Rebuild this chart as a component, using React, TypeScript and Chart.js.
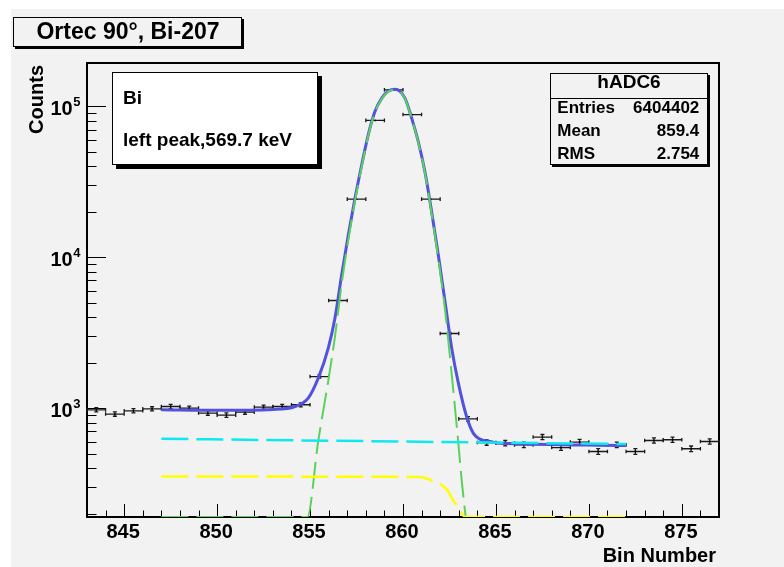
import React, { useEffect, useRef } from "react";
import { Chart, registerables } from "chart.js";

Chart.register(...registerables);

// ---- data ----
const binCenters = [
  843.5, 844.5, 845.5, 846.5, 847.5, 848.5, 849.5, 850.5, 851.5, 852.5, 853.5, 854.5,
  855.5, 856.5, 857.5, 858.5, 859.5, 860.5, 861.5, 862.5, 863.5, 864.5, 865.5, 866.5,
  867.5, 868.5, 869.5, 870.5, 871.5, 872.5, 873.5, 874.5, 875.5, 876.5,
];
const counts = [
  974, 913, 960, 989, 1025, 1000, 927, 899, 941, 1015, 1025, 1052,
  1618, 5160, 24200, 80400, 128300, 87900, 24200, 3120, 849, 592, 586, 571,
  643, 548, 596, 516, 571, 516, 610, 617, 538, 601,
];

// total fit (blue)
const totalFitX = [
  847, 850, 853, 854.19, 854.9, 855.44, 855.98, 856.34, 856.7, 857.06, 857.42, 857.78,
  858.13, 858.49, 858.85, 859.21, 859.57, 860.11, 860.47, 860.82, 861.18, 861.54, 861.9,
  862.26, 862.62, 862.97, 863.42, 863.78, 864.32, 864.68, 865.04, 865.58, 872,
];
const totalFitY = [
  975, 966, 979, 1025, 1165, 1580, 2496, 3945, 7625, 14040, 24600, 40900,
  64600, 92000, 112600, 125800, 129500, 112600, 83000, 58300, 36800, 20000, 10330,
  5080, 2496, 1480, 880, 683, 610, 601, 588, 583, 565,
];

// gaussian component (green dashed)
const gaussX = [
  847, 854.85, 855.44, 855.98, 856.34, 856.7, 857.06, 857.42, 857.78, 858.13, 858.49,
  858.85, 859.21, 859.57, 860.11, 860.47, 860.82, 861.18, 861.54, 861.9, 862.26, 862.62,
  862.97, 863.16, 863.37,
];
const gaussY = [
  190, 190, 605, 1520, 2970, 6650, 13070, 23600, 39900, 63600, 91000,
  111600, 124800, 128500, 112000, 82400, 57700, 36200, 19400, 9750, 4500, 1670,
  600, 330, 190,
];

// linear background (cyan dashed)
const linBkgX = [847, 872];
const linBkgY = [626, 578];

// step background (yellow dashed)
const stepBkgX = [847, 860.9, 861.63, 862.35, 862.7, 863.06, 863.33, 872];
const stepBkgY = [352, 350, 328, 290, 245, 212, 190, 190];

// axis ticks / labels
const xTickLabels = [845, 850, 855, 860, 865, 870, 875];
const yTickExponents = [3, 4, 5];

const titleText = "Ortec 90°, Bi-207";
const legendLines = ["Bi", "left peak,569.7 keV"];
const statsName = "hADC6";
const statsRows: [string, string][] = [
  ["Entries", "6404402"],
  ["Mean", "859.4"],
  ["RMS", "2.754"],
];

const FONT = '"Liberation Sans", Arial, Helvetica, sans-serif';
const BG = "#f2f2f2";

function pave(ctx: CanvasRenderingContext2D, x: number, y: number, w: number, h: number, fill: string, shadow: number) {
  ctx.fillStyle = "#000";
  ctx.fillRect(x + shadow, y + shadow, w, h);
  ctx.fillStyle = fill;
  ctx.fillRect(x, y, w, h);
  ctx.strokeStyle = "#000";
  ctx.lineWidth = 1;
  ctx.strokeRect(x + 0.5, y + 0.5, w - 1, h - 1);
}

const rootPlugin = {
  id: "rootStyle",
  beforeDatasetsDraw(chart: any) {
    const { ctx, chartArea: a, scales } = chart;
    const xs = scales.x;
    const ys = scales.y;
    ctx.save();
    // ticks (inside)
    ctx.strokeStyle = "#000";
    ctx.lineWidth = 1;
    ctx.beginPath();
    for (let v = Math.ceil(xs.min) + 1; v < xs.max; v++) {
      const px = Math.round(xs.getPixelForValue(v)) + 0.5;
      const len = v % 5 === 0 ? 13 : 6.5;
      ctx.moveTo(px, a.bottom);
      ctx.lineTo(px, a.bottom - len);
    }
    for (let e = 2; e <= 5; e++) {
      for (let m = 1; m <= 9; m++) {
        const v = m * Math.pow(10, e);
        if (v <= ys.min || v >= ys.max) continue;
        const py = Math.round(ys.getPixelForValue(v)) + 0.5;
        const len = m === 1 ? 19 : 9.5;
        ctx.moveTo(a.left, py);
        ctx.lineTo(a.left + len, py);
      }
    }
    ctx.stroke();
    // frame
    ctx.lineWidth = 2;
    ctx.strokeRect(a.left, a.top, a.right - a.left, a.bottom - a.top);

    // error bars
    ctx.strokeStyle = "#1a1a1a";
    ctx.lineWidth = 1.3;
    binCenters.forEach((c, i) => {
      const v = counts[i];
      const err = Math.sqrt(v);
      const x0 = xs.getPixelForValue(c - 0.5);
      const x1 = xs.getPixelForValue(c + 0.5);
      const xc = xs.getPixelForValue(c);
      const y = ys.getPixelForValue(v);
      const yh = ys.getPixelForValue(v + err);
      const yl = ys.getPixelForValue(v - err);
      ctx.beginPath();
      ctx.moveTo(x0, y);
      ctx.lineTo(x1, y);
      ctx.moveTo(x0, y - 1.8);
      ctx.lineTo(x0, y + 1.8);
      ctx.moveTo(x1, y - 1.8);
      ctx.lineTo(x1, y + 1.8);
      if (y - yh > 1) {
        ctx.moveTo(xc, yh);
        ctx.lineTo(xc, yl);
        ctx.moveTo(xc - 2, yh);
        ctx.lineTo(xc + 2, yh);
        ctx.moveTo(xc - 2, yl);
        ctx.lineTo(xc + 2, yl);
      }
      ctx.stroke();
    });
    ctx.restore();
  },
  afterDraw(chart: any) {
    const { ctx, chartArea: a, scales } = chart;
    const xs = scales.x;
    const ys = scales.y;
    ctx.save();
    ctx.fillStyle = "#000";
    ctx.textBaseline = "alphabetic";

    // x labels
    ctx.font = `bold 20px ${FONT}`;
    ctx.textAlign = "center";
    xTickLabels.forEach((v) => {
      ctx.fillText(String(v), xs.getPixelForValue(v) - 1, a.bottom + 21.3);
    });

    // y labels 10^n
    yTickExponents.forEach((e) => {
      const py = ys.getPixelForValue(Math.pow(10, e));
      ctx.font = `bold 20px ${FONT}`;
      ctx.textAlign = "right";
      ctx.fillText("10", a.left - 14.3, py + 8.5);
      ctx.font = `bold 13px ${FONT}`;
      ctx.textAlign = "left";
      ctx.fillText(String(e), a.left - 13.8, py);
    });

    // axis titles
    ctx.font = `bold 20px ${FONT}`;
    ctx.textAlign = "right";
    ctx.fillText("Bin Number", a.right - 3, a.bottom + 44.7);
    ctx.save();
    ctx.translate(a.left - 44, a.top + 2);
    ctx.rotate(-Math.PI / 2);
    ctx.fillText("Counts", 0, 0);
    ctx.restore();

    // title box
    pave(ctx, 2, 8, 229, 30, BG, 2);
    ctx.fillStyle = "#000";
    ctx.font = `bold 23px ${FONT}`;
    ctx.textAlign = "center";
    ctx.fillText(titleText, 117, 30);

    // legend (white) box
    pave(ctx, 101, 63, 206, 93, "#ffffff", 4);
    ctx.fillStyle = "#000";
    ctx.font = `bold 19px ${FONT}`;
    ctx.textAlign = "left";
    ctx.fillText(legendLines[0], 112, 95);
    ctx.fillText(legendLines[1], 112, 136.7);

    // stats box
    pave(ctx, 539, 64, 158, 92, BG, 2);
    ctx.strokeStyle = "#000";
    ctx.lineWidth = 1;
    ctx.beginPath();
    ctx.moveTo(539, 89.5);
    ctx.lineTo(697, 89.5);
    ctx.stroke();
    ctx.fillStyle = "#000";
    ctx.font = `bold 19px ${FONT}`;
    ctx.textAlign = "center";
    ctx.fillText(statsName, 618, 79.3);
    ctx.font = `bold 17px ${FONT}`;
    const rowBase = [104.3, 127, 150];
    statsRows.forEach(([k, v], i) => {
      ctx.textAlign = "left";
      ctx.fillText(k, 546.3, rowBase[i]);
      ctx.textAlign = "right";
      ctx.fillText(v, 688.3, rowBase[i]);
    });
    ctx.restore();
  },
};

function pts(xsArr: number[], ysArr: number[]) {
  return xsArr.map((x, i) => ({ x, y: ysArr[i] }));
}

export default function App() {
  const ref = useRef<HTMLCanvasElement>(null);
  useEffect(() => {
    if (!ref.current) return;
    const curve = {
      showLine: true,
      pointRadius: 0,
      pointHoverRadius: 0,
      cubicInterpolationMode: "monotone" as const,
      fill: false,
    };
    const chart = new Chart(ref.current, {
      type: "scatter",
      data: {
        datasets: [
          {
            label: "data",
            data: pts(binCenters, counts),
            showLine: false,
            pointRadius: 0.9,
            pointBackgroundColor: "#000",
            pointBorderWidth: 0,
            order: 10,
          },
          {
            ...curve,
            label: "total",
            data: pts(totalFitX, totalFitY),
            borderColor: "#5252dc",
            borderWidth: 3,
            order: 4,
          },
          {
            ...curve,
            label: "gauss",
            data: pts(gaussX, gaussY),
            borderColor: "#5ad25a",
            borderWidth: 2,
            borderDash: [27, 8],
            order: 3,
          },
          {
            ...curve,
            label: "linear",
            data: pts(linBkgX, linBkgY),
            borderColor: "#10e8f0",
            borderWidth: 2.5,
            borderDash: [27, 8],
            order: 2,
          },
          {
            ...curve,
            label: "step",
            data: pts(stepBkgX, stepBkgY),
            borderColor: "#ffff00",
            borderWidth: 2.5,
            borderDash: [27, 8],
            order: 1,
          },
        ] as any,
      },
      options: {
        responsive: false,
        animation: false,
        devicePixelRatio: 1,
        events: [],
        layout: { padding: { left: 76, top: 54, right: 65, bottom: 50 } },
        scales: {
          x: { type: "linear", min: 843, max: 877, display: false },
          y: { type: "logarithmic", min: 190, max: 193000, display: false },
        },
        plugins: { legend: { display: false }, tooltip: { enabled: false } },
      },
      plugins: [rootPlugin],
    });
    return () => chart.destroy();
  }, []);
  return (
    <div
      style={{
        position: "absolute",
        left: 11,
        top: 9,
        width: 773,
        height: 558,
        background: BG,
      }}
    >
      <canvas ref={ref} width={773} height={558} style={{ display: "block", width: 773, height: 558 }} />
    </div>
  );
}
